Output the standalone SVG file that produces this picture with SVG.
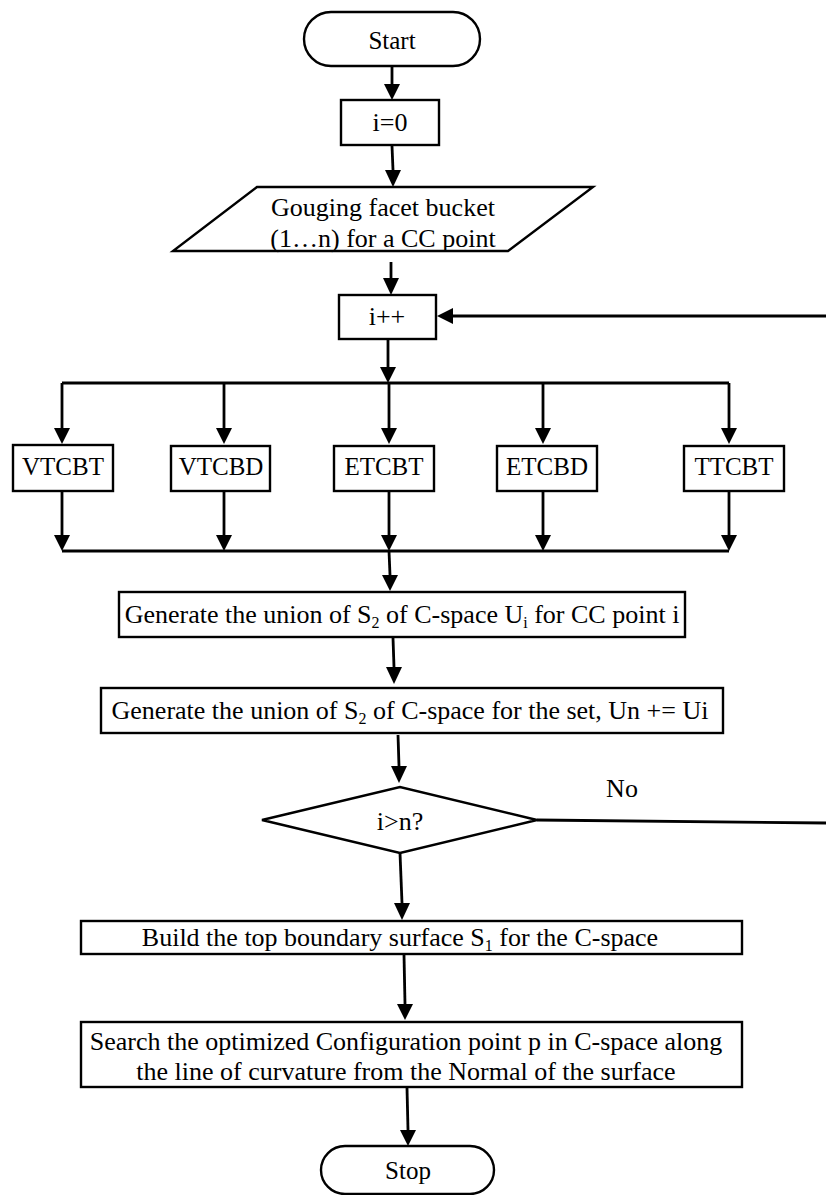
<svg xmlns="http://www.w3.org/2000/svg" width="826" height="1195" viewBox="0 0 826 1195">
  <style>
    .shape { fill: #ffffff; stroke: #000000; stroke-width: 2.4; }
    .wire { fill: none; stroke: #000000; stroke-width: 2.8; }
    text { font-family: "Liberation Serif", "Times New Roman", serif; font-size: 26px; fill: #000000; text-anchor: middle; }
    .sub { font-size: 16px; }
  </style>

  <!-- connectors: straight wires with filled triangular heads -->
  <g id="connectors">
    <line class="wire" x1="392" y1="67" x2="392" y2="84"/>
    <path d="M384,84 L400,84 L392,100 Z"/>
    <line class="wire" x1="392" y1="146" x2="393" y2="170"/>
    <path d="M385,170 L401,170 L393,187 Z"/>
    <line class="wire" x1="391" y1="262" x2="391" y2="278"/>
    <path d="M383,278 L399,278 L391,295 Z"/>

    <!-- loop back into i++ -->
    <line class="wire" x1="826" y1="316" x2="452" y2="316"/>
    <path d="M453,308 L453,324 L437,316 Z"/>

    <!-- fan-out to the five tests -->
    <line class="wire" x1="388" y1="339" x2="388" y2="367"/>
    <path d="M380,367 L396,367 L388,383 Z"/>
    <line class="wire" x1="62" y1="383" x2="729" y2="383"/>
    <line class="wire" x1="62" y1="383" x2="62" y2="428"/>
    <path d="M54,428 L70,428 L62,444 Z"/>
    <line class="wire" x1="224" y1="383" x2="224" y2="428"/>
    <path d="M216,428 L232,428 L224,444 Z"/>
    <line class="wire" x1="389" y1="383" x2="389" y2="428"/>
    <path d="M381,428 L397,428 L389,444 Z"/>
    <line class="wire" x1="543" y1="383" x2="543" y2="428"/>
    <path d="M535,428 L551,428 L543,444 Z"/>
    <line class="wire" x1="729" y1="383" x2="729" y2="428"/>
    <path d="M721,428 L737,428 L729,444 Z"/>

    <!-- fan-in -->
    <line class="wire" x1="62" y1="491" x2="62" y2="535"/>
    <path d="M54,535 L70,535 L62,551 Z"/>
    <line class="wire" x1="224" y1="491" x2="224" y2="535"/>
    <path d="M216,535 L232,535 L224,551 Z"/>
    <line class="wire" x1="389" y1="491" x2="389" y2="535"/>
    <path d="M381,535 L397,535 L389,551 Z"/>
    <line class="wire" x1="543" y1="491" x2="543" y2="535"/>
    <path d="M535,535 L551,535 L543,551 Z"/>
    <line class="wire" x1="729" y1="491" x2="729" y2="535"/>
    <path d="M721,535 L737,535 L729,551 Z"/>
    <line class="wire" x1="62" y1="551" x2="729" y2="551"/>
    <line class="wire" x1="389" y1="551" x2="390" y2="575"/>
    <path d="M382,575 L398,575 L390,591 Z"/>

    <line class="wire" x1="393" y1="638" x2="394" y2="667"/>
    <path d="M386,667 L402,667 L394,684 Z"/>
    <line class="wire" x1="398" y1="735" x2="399" y2="766"/>
    <path d="M391,766 L407,766 L399,783 Z"/>

    <!-- No branch -->
    <line class="wire" x1="537" y1="820" x2="826" y2="823"/>

    <line class="wire" x1="400" y1="853" x2="402" y2="903"/>
    <path d="M394,903 L410,903 L402,920 Z"/>
    <line class="wire" x1="404" y1="955" x2="405" y2="1004"/>
    <path d="M397,1004 L413,1004 L405,1020 Z"/>
    <line class="wire" x1="407" y1="1088" x2="408" y2="1130"/>
    <path d="M400,1130 L416,1130 L408,1146 Z"/>
  </g>

  <g id="start">
    <rect class="shape" x="304" y="12" width="176" height="54" rx="27" ry="27"/>
    <text x="392" y="49" style="font-size:25px">Start</text>
  </g>

  <g id="init">
    <rect class="shape" x="341" y="100" width="98" height="45"/>
    <text x="390" y="131">i=0</text>
  </g>

  <g id="input">
    <polygon class="shape" points="257,187 593,187 508,251 173,251"/>
    <text x="383" y="216">Gouging facet bucket</text>
    <text x="383" y="247">(1…n) for a CC point</text>
  </g>

  <g id="increment">
    <rect class="shape" x="339" y="295" width="97" height="44"/>
    <text x="387" y="325">i++</text>
  </g>

  <g id="vtcbt">
    <rect class="shape" x="13" y="445" width="100" height="46"/>
    <text x="63" y="475" style="font-size:25px">VTCBT</text>
  </g>
  <g id="vtcbd">
    <rect class="shape" x="171" y="446" width="99" height="45"/>
    <text x="221" y="475" style="font-size:25px">VTCBD</text>
  </g>
  <g id="etcbt">
    <rect class="shape" x="334" y="446" width="100" height="45"/>
    <text x="384" y="475" style="font-size:25px">ETCBT</text>
  </g>
  <g id="etcbd">
    <rect class="shape" x="497" y="446" width="100" height="45"/>
    <text x="547" y="475" style="font-size:25px">ETCBD</text>
  </g>
  <g id="ttcbt">
    <rect class="shape" x="684" y="446" width="100" height="45"/>
    <text x="734" y="475" style="font-size:25px">TTCBT</text>
  </g>

  <g id="union-point">
    <rect class="shape" x="119" y="592" width="566" height="45"/>
    <text x="402" y="623">Generate the union of S<tspan class="sub" dy="5">2</tspan><tspan dy="-5"> of C-space U</tspan><tspan class="sub" dy="5">i</tspan><tspan dy="-5"> for CC point i</tspan></text>
  </g>

  <g id="union-set">
    <rect class="shape" x="101" y="688" width="622" height="45"/>
    <text x="410" y="719">Generate the union of S<tspan class="sub" dy="5">2</tspan><tspan dy="-5"> of C-space for the set, Un += Ui</tspan></text>
  </g>

  <g id="decision">
    <polygon class="shape" points="262,820 400,787 537,820 400,853"/>
    <text x="400" y="830">i&gt;n?</text>
    <text x="622" y="797">No</text>
  </g>

  <g id="boundary">
    <rect class="shape" x="81" y="921" width="661" height="33"/>
    <text x="400" y="946">Build the top boundary surface S<tspan class="sub" dy="5">1</tspan><tspan dy="-5"> for the C-space</tspan></text>
  </g>

  <g id="search">
    <rect class="shape" x="81" y="1022" width="661" height="65"/>
    <text x="406" y="1050">Search the optimized Configuration point p in C-space along</text>
    <text x="406" y="1080">the line of curvature from the Normal of the surface</text>
  </g>

  <g id="stop">
    <rect class="shape" x="321" y="1146" width="173" height="48" rx="24" ry="24"/>
    <text x="408" y="1179" style="font-size:25px">Stop</text>
  </g>
</svg>
